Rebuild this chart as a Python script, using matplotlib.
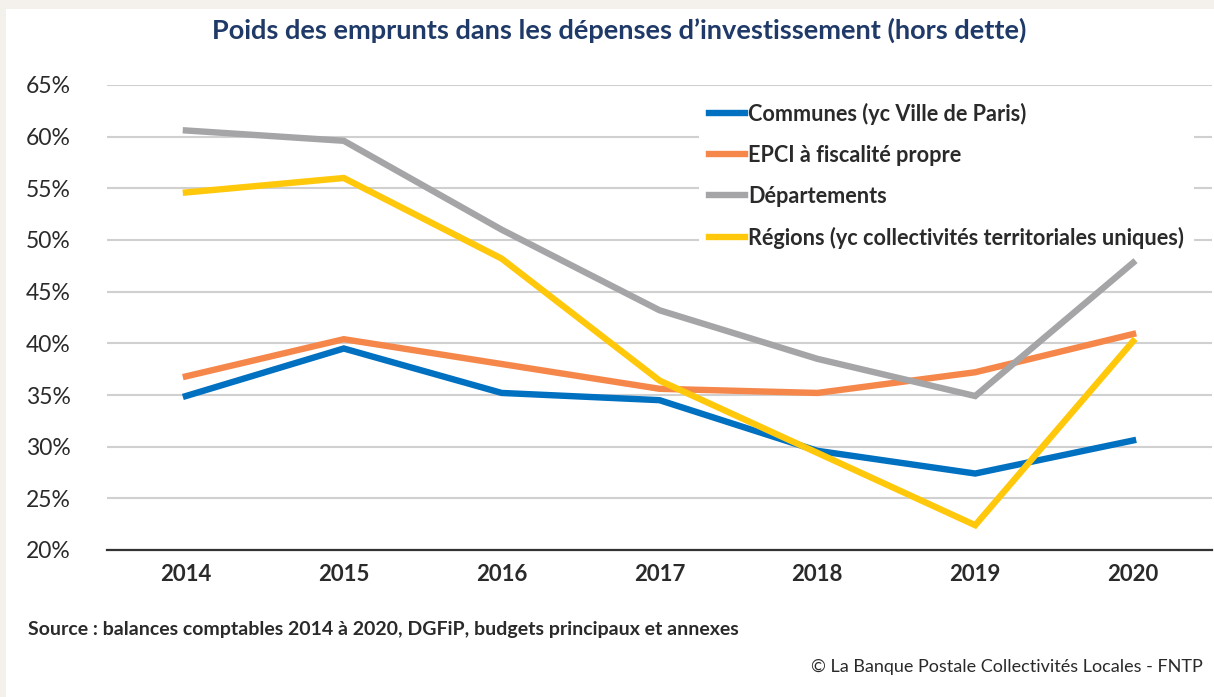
import matplotlib
matplotlib.use("Agg")
import matplotlib.pyplot as plt
from matplotlib.patches import Rectangle
from matplotlib.ticker import FuncFormatter

years = ["2014", "2015", "2016", "2017", "2018", "2019", "2020"]
communes = [34.9, 39.5, 35.2, 34.5, 29.6, 27.4, 30.6]
epci = [36.8, 40.4, 38.0, 35.6, 35.2, 37.2, 40.9]
departements = [60.6, 59.6, 51.0, 43.2, 38.5, 34.9, 47.8]
regions = [54.6, 56.0, 48.2, 36.4, 29.4, 22.4, 40.2]
series_labels = ["Communes (yc Ville de Paris)", "EPCI à fiscalité propre",
                 "Départements", "Régions (yc collectivités territoriales uniques)"]
colors = ["#0070C0", "#F5874A", "#A5A5A8", "#FFC80A"]
y_ticks = [20, 25, 30, 35, 40, 45, 50, 55, 60, 65]

W, H = 1214, 697
fig = plt.figure(figsize=(W / 100, H / 100), dpi=100, facecolor="#F4F1EC")
bg = Rectangle((6 / W, 0), 1 - 6 / W, 1 - 9 / H, transform=fig.transFigure,
               facecolor="white", edgecolor="none", zorder=-10)
fig.patches.append(bg)

left, right, top, bottom = 107, 1212, 85, 550
ax = fig.add_axes([left / W, 1 - bottom / H, (right - left) / W, (bottom - top) / H])
ax.set_zorder(5)
ax.set_facecolor("none")

x = list(range(len(years)))
for vals, lab, c in zip([communes, epci, departements, regions], series_labels, colors):
    ax.plot(x, vals, color=c, lw=4.6, label=lab, solid_joinstyle="miter", zorder=3)

ax.set_xlim(-0.5, len(years) - 0.5)
ax.set_ylim(20, 65)
ax.set_yticks(y_ticks)
ax.yaxis.set_major_formatter(FuncFormatter(lambda v, p: f"{int(v)}%"))
ax.set_xticks(x)
ax.set_xticklabels(years)
ax.grid(axis="y", color="#D0D0D0", lw=1.5, zorder=1)
ax.set_axisbelow(True)
for s in ["top", "right", "left"]:
    ax.spines[s].set_visible(False)
ax.spines["bottom"].set_color("#333333")
ax.spines["bottom"].set_linewidth(1.6)
ax.tick_params(axis="both", length=0)
ax.tick_params(axis="y", pad=26)
ax.tick_params(axis="x", pad=10)
for t in ax.get_yticklabels():
    t.set_fontfamily("Lato")
    t.set_fontweight("normal")
    t.set_fontsize(16.5)
    t.set_color("#2A2A2A")
for t in ax.get_xticklabels():
    t.set_fontfamily("Lato")
    t.set_fontweight("bold")
    t.set_fontsize(16)
    t.set_color("#2A2A2A")

leg = ax.legend(loc="upper left", bbox_to_anchor=(688 / W, 1 - 82 / H),
                bbox_transform=fig.transFigure, frameon=True, fancybox=False,
                edgecolor="none", facecolor="white", framealpha=1,
                handlelength=1.7, handletextpad=0.13, labelspacing=0.92,
                borderpad=0.45, prop={"family": "Lato", "weight": "bold", "size": 15.6})
for t in leg.get_texts():
    t.set_color("#2A2A2A")
leg.set_zorder(2)

fig.text(619 / W, 1 - 30 / H, "Poids des emprunts dans les dépenses d’investissement (hors dette)",
         ha="center", va="center", fontsize=19.5, fontfamily="Lato", fontweight="bold",
         color="#1F3A68")
fig.text(28 / W, 1 - 630 / H, "Source : balances comptables 2014 à 2020, DGFiP, budgets principaux et annexes",
         ha="left", va="center", fontsize=14, fontfamily="Lato", fontweight="bold", color="#2A2A2A")
fig.text(1203 / W, 1 - 667 / H, "© La Banque Postale Collectivités Locales - FNTP",
         ha="right", va="center", fontsize=13, fontfamily="Lato", color="#2A2A2A")

fig.savefig("out.png", dpi=100, facecolor=fig.get_facecolor())
